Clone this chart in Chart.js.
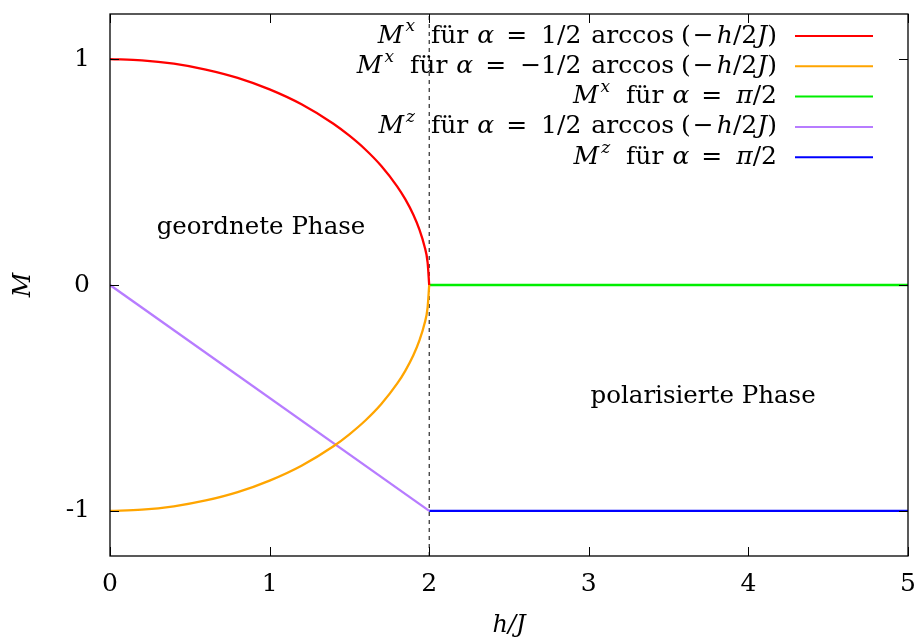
<!DOCTYPE html>
<html>
<head>
<meta charset="utf-8">
<script src="https://cdn.jsdelivr.net/npm/chart.js@4.4.1/dist/chart.umd.min.js"></script>
<style>
  html, body { margin: 0; padding: 0; background: #ffffff; }
  #c { display: block; }
</style>
</head>
<body>
<canvas id="c" width="921" height="641"></canvas>
<script>
// ---------------- data ----------------
const hOrdered = [0, 0.2, 0.4, 0.6, 0.8, 1.0, 1.2, 1.4, 1.5, 1.6, 1.7, 1.8, 1.85, 1.9, 1.94, 1.97, 1.99, 2.0];
const mxPlus   = [1.000, 0.995, 0.980, 0.954, 0.917, 0.866, 0.800, 0.714, 0.661, 0.600, 0.527, 0.436, 0.380, 0.312, 0.243, 0.173, 0.100, 0.000];
const mxMinus  = [-1.000, -0.995, -0.980, -0.954, -0.917, -0.866, -0.800, -0.714, -0.661, -0.600, -0.527, -0.436, -0.380, -0.312, -0.243, -0.173, -0.100, 0.000];
const hPolar   = [2, 5];
const mxPolar  = [0, 0];
const hMzOrd   = [0, 2];
const mzOrd    = [0, -1];
const mzPolar  = [-1, -1];
const hCritical = [2, 2];
const mCritical = [-1.2, 1.2];

const xTicks = [0, 1, 2, 3, 4, 5];
const yTicks = [-1, 0, 1];
const yTickLabels = ['-1', '0', '1'];

// markup: _italic_, ^superscript^, {n} = n px gap
const legendLabels = [
  '_M_^x^{16}für{9}_α_{12}={14}1/2{10}arccos{7}({2}−{3}_h_/2_J_)',
  '_M_^x^{16}für{9}_α_{12}={14}−1/2{10}arccos{7}({2}−{3}_h_/2_J_)',
  '_M_^x^{16}für{9}_α_{12}={14}_π_/2',
  '_M_^z^{16}für{9}_α_{12}={14}1/2{10}arccos{7}({2}−{3}_h_/2_J_)',
  '_M_^z^{16}für{9}_α_{12}={14}_π_/2'
];
const seriesColors = ['#ff0000', '#ffa500', '#00ee00', '#b77cff', '#0000ff'];
const phaseLabels = [
  { text: 'geordnete Phase', x: 0.946, y: 0.256 },
  { text: 'polarisierte Phase', x: 3.716, y: -0.494 }
];
const xTitle = 'h/J';
const yTitle = 'M';

// ---------------- helpers ----------------
const pts = (xs, ys) => xs.map((x, i) => ({ x: x, y: ys[i] }));
const SERIF = '"DejaVu Serif", "Liberation Serif", serif';
const FS = 25;

function parseRich(str) {
  const segs = [];
  let mode = 'r', buf = '';
  const flush = () => { if (buf) segs.push({ t: buf, m: mode }); buf = ''; };
  for (let k = 0; k < str.length; k++) {
    const ch = str[k];
    if (ch === '_') { flush(); mode = (mode === 'i') ? 'r' : 'i'; }
    else if (ch === '^') { flush(); mode = (mode === 's') ? 'r' : 's'; }
    else if (ch === '{') {
      flush();
      const end = str.indexOf('}', k);
      segs.push({ gap: parseFloat(str.slice(k + 1, end)) });
      k = end;
    }
    else buf += ch;
  }
  flush();
  return segs;
}
function segFont(m) {
  if (m === 'i') return 'italic ' + FS + 'px ' + SERIF;
  if (m === 's') return 'italic 17px ' + SERIF;
  return FS + 'px ' + SERIF;
}

const decorPlugin = {
  id: 'decor',
  afterDatasetsDraw(chart) {
    const ctx = chart.ctx;
    const a = chart.chartArea;
    const xs = chart.scales.x, ys = chart.scales.y;
    ctx.save();
    ctx.strokeStyle = '#000';
    ctx.lineWidth = 1.3;
    ctx.strokeRect(a.left, a.top, a.right - a.left, a.bottom - a.top);
    const tl = 9;
    ctx.lineWidth = 1;
    ctx.beginPath();
    xTicks.forEach(v => {
      const px = Math.round(xs.getPixelForValue(v)) + 0.5;
      ctx.moveTo(px, a.bottom); ctx.lineTo(px, a.bottom - tl);
      ctx.moveTo(px, a.top); ctx.lineTo(px, a.top + tl);
    });
    yTicks.forEach(v => {
      const py = Math.round(ys.getPixelForValue(v)) + 0.5;
      ctx.moveTo(a.left, py); ctx.lineTo(a.left + tl, py);
      ctx.moveTo(a.right, py); ctx.lineTo(a.right - tl, py);
    });
    ctx.stroke();
    ctx.fillStyle = '#000';
    ctx.font = '24.5px ' + SERIF;
    ctx.textAlign = 'center';
    ctx.textBaseline = 'middle';
    phaseLabels.forEach(p => {
      ctx.fillText(p.text, xs.getPixelForValue(p.x), ys.getPixelForValue(p.y));
    });
    const rightEdge = 777, lineX0 = 795, lineX1 = 873, y0 = 36, dy = 30.3;
    ctx.textAlign = 'left';
    ctx.textBaseline = 'middle';
    legendLabels.forEach((lab, i) => {
      const y = y0 + i * dy;
      const segs = parseRich(lab);
      let w = 0;
      segs.forEach(s => {
        if (s.gap !== undefined) { s.w = s.gap; }
        else { ctx.font = segFont(s.m); s.w = ctx.measureText(s.t).width + (s.m === 's' ? 2 : 0); }
        w += s.w;
      });
      let x = rightEdge - w;
      segs.forEach(s => {
        if (s.gap === undefined) {
          ctx.font = segFont(s.m);
          ctx.fillStyle = '#000';
          ctx.fillText(s.t, s.m === 's' ? x + 2 : x, s.m === 's' ? y - 9 : y);
        }
        x += s.w;
      });
      ctx.strokeStyle = seriesColors[i];
      ctx.lineWidth = 2;
      ctx.beginPath();
      ctx.moveTo(lineX0, y); ctx.lineTo(lineX1, y);
      ctx.stroke();
    });
    ctx.restore();
  }
};

const baseDs = { pointRadius: 0, borderWidth: 2.3, fill: false, tension: 0 };

new Chart(document.getElementById('c'), {
  type: 'line',
  data: {
    datasets: [
      Object.assign({}, baseDs, { label: 'Mx+', data: pts(hOrdered, mxPlus), borderColor: seriesColors[0], cubicInterpolationMode: 'monotone' }),
      Object.assign({}, baseDs, { label: 'Mx-', data: pts(hOrdered, mxMinus), borderColor: seriesColors[1], cubicInterpolationMode: 'monotone' }),
      Object.assign({}, baseDs, { label: 'Mx pi/2', data: pts(hPolar, mxPolar), borderColor: seriesColors[2] }),
      Object.assign({}, baseDs, { label: 'Mz', data: pts(hMzOrd, mzOrd), borderColor: seriesColors[3] }),
      Object.assign({}, baseDs, { label: 'Mz pi/2', data: pts(hPolar, mzPolar), borderColor: seriesColors[4] }),
      Object.assign({}, baseDs, { label: 'h = 2J', data: pts(hCritical, mCritical), borderColor: '#000', borderWidth: 1, borderDash: [4, 4] })
    ]
  },
  options: {
    responsive: false,
    animation: false,
    devicePixelRatio: 1,
    layout: { padding: { top: 14, right: 13, left: 0, bottom: 0 } },
    plugins: { legend: { display: false }, tooltip: { enabled: false } },
    scales: {
      x: {
        type: 'linear', min: 0, max: 5,
        afterBuildTicks: s => { s.ticks = xTicks.map(v => ({ value: v })); },
        afterFit: s => { s.height = 85; s.paddingLeft = 0; s.paddingRight = 0; },
        grid: { display: false, drawTicks: false },
        border: { display: false },
        ticks: { color: '#000', font: { family: SERIF, size: 25 }, padding: 13, maxRotation: 0 },
        title: { display: true, text: xTitle, color: '#000', font: { family: SERIF, size: 24, style: 'italic' }, padding: { top: 0, bottom: 1 } }
      },
      y: {
        type: 'linear', min: -1.2, max: 1.2,
        afterBuildTicks: s => { s.ticks = yTicks.map(v => ({ value: v })); },
        afterFit: s => { s.width = 110; s.paddingTop = 0; s.paddingBottom = 0; },
        grid: { display: false, drawTicks: false },
        border: { display: false },
        ticks: { color: '#000', font: { family: SERIF, size: 25 }, padding: 20,
                 callback: (v) => yTickLabels[yTicks.indexOf(v)] },
        title: { display: true, text: yTitle, color: '#000', font: { family: SERIF, size: 24, style: 'italic' }, padding: { top: 9, bottom: 0 } }
      }
    }
  },
  plugins: [decorPlugin]
});
</script>
</body>
</html>
